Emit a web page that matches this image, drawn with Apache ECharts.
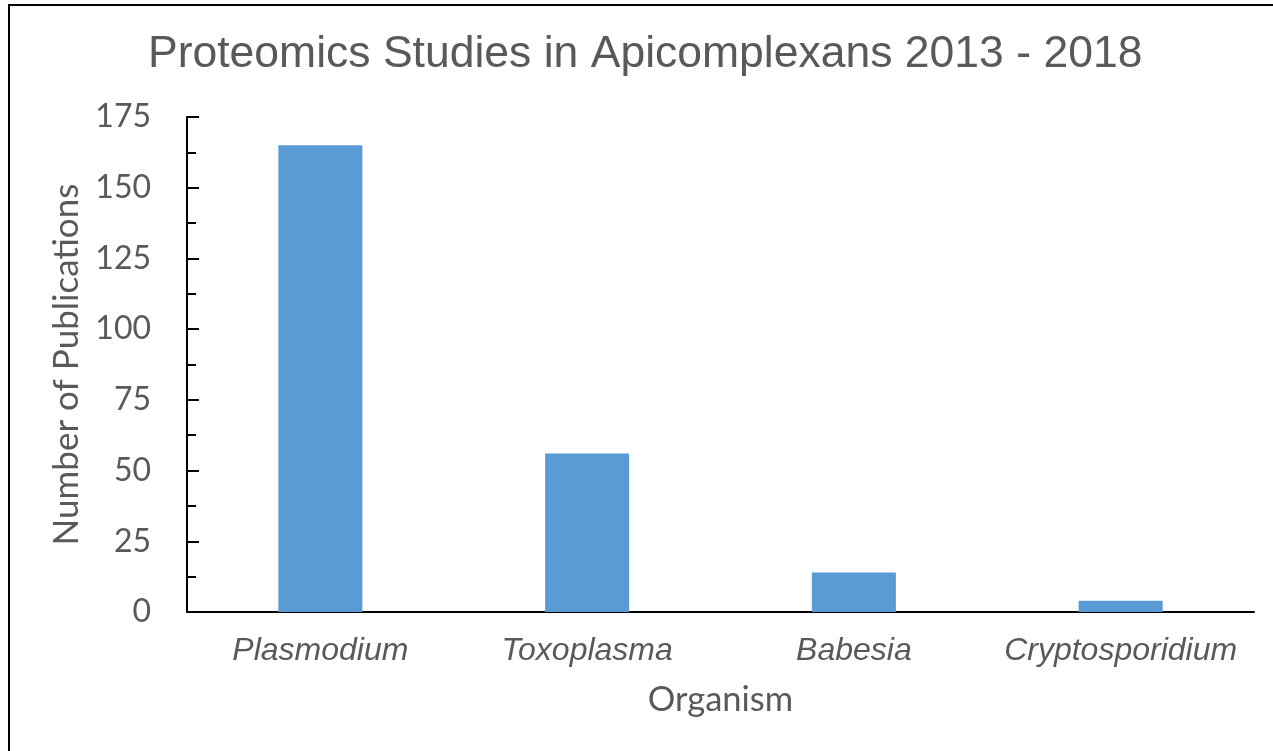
<!DOCTYPE html>
<html>
<head>
<meta charset="utf-8">
<script src="https://cdn.jsdelivr.net/npm/echarts@6/dist/echarts.min.js"></script>
<style>
  html, body { margin: 0; padding: 0; background: #fff; }
  #chart { width: 1273px; height: 751px; }
</style>
</head>
<body>
<div id="chart"></div>
<script>
// Organisms and publication counts (2013 - 2018)
const organisms = ['Plasmodium', 'Toxoplasma', 'Babesia', 'Cryptosporidium'];
const publications = [165, 56, 14, 4];
const yTicks = [0, 25, 50, 75, 100, 125, 150, 175];

const textGrey = '#595959';
const chart = echarts.init(document.getElementById('chart'), null, { renderer: 'canvas' });

chart.setOption({
  backgroundColor: '#ffffff',
  animation: false,
  title: {
    text: 'Proteomics Studies in Apicomplexans 2013 - 2018',
    left: 143,
    top: 27,
    textStyle: {
      fontFamily: 'Liberation Sans',
      fontSize: 44.5,
      fontWeight: 'normal',
      color: textGrey
    }
  },
  graphic: [{
    type: 'rect',
    shape: { x: 9, y: 5, width: 1400, height: 900 },
    style: { fill: 'none', stroke: '#000', lineWidth: 2 },
    silent: true
  }],
  grid: { left: 187, right: 19, top: 117, bottom: 139, containLabel: false },
  xAxis: {
    type: 'category',
    data: organisms,
    axisLine: { lineStyle: { color: '#000', width: 2 } },
    axisTick: { show: false },
    axisLabel: {
      interval: 0,
      margin: 23,
      fontFamily: 'Liberation Sans',
      fontStyle: 'italic',
      fontSize: 32,
      color: textGrey
    },
    name: 'Organism',
    nameLocation: 'middle',
    nameGap: 70,
    nameTextStyle: { fontFamily: 'Lato', fontSize: 34.5, color: textGrey }
  },
  yAxis: {
    type: 'value',
    min: yTicks[0],
    max: yTicks[yTicks.length - 1],
    interval: 25,
    axisLine: { show: true, lineStyle: { color: '#000', width: 2 } },
    axisTick: { show: true, inside: true, length: 12, lineStyle: { color: '#000', width: 2 } },
    minorTick: { show: true, splitNumber: 2, length: 9, lineStyle: { color: '#000', width: 2 } },
    splitLine: { show: false },
    axisLabel: {
      margin: 36,
      fontFamily: 'Lato',
      fontSize: 32,
      color: textGrey
    },
    name: 'Number of Publications',
    nameLocation: 'middle',
    nameGap: 103,
    nameTextStyle: { fontFamily: 'Lato', fontSize: 35, color: textGrey }
  },
  series: [{
    type: 'bar',
    data: publications,
    barWidth: '31.5%',
    itemStyle: { color: '#5B9BD5' }
  }]
});
</script>
</body>
</html>
